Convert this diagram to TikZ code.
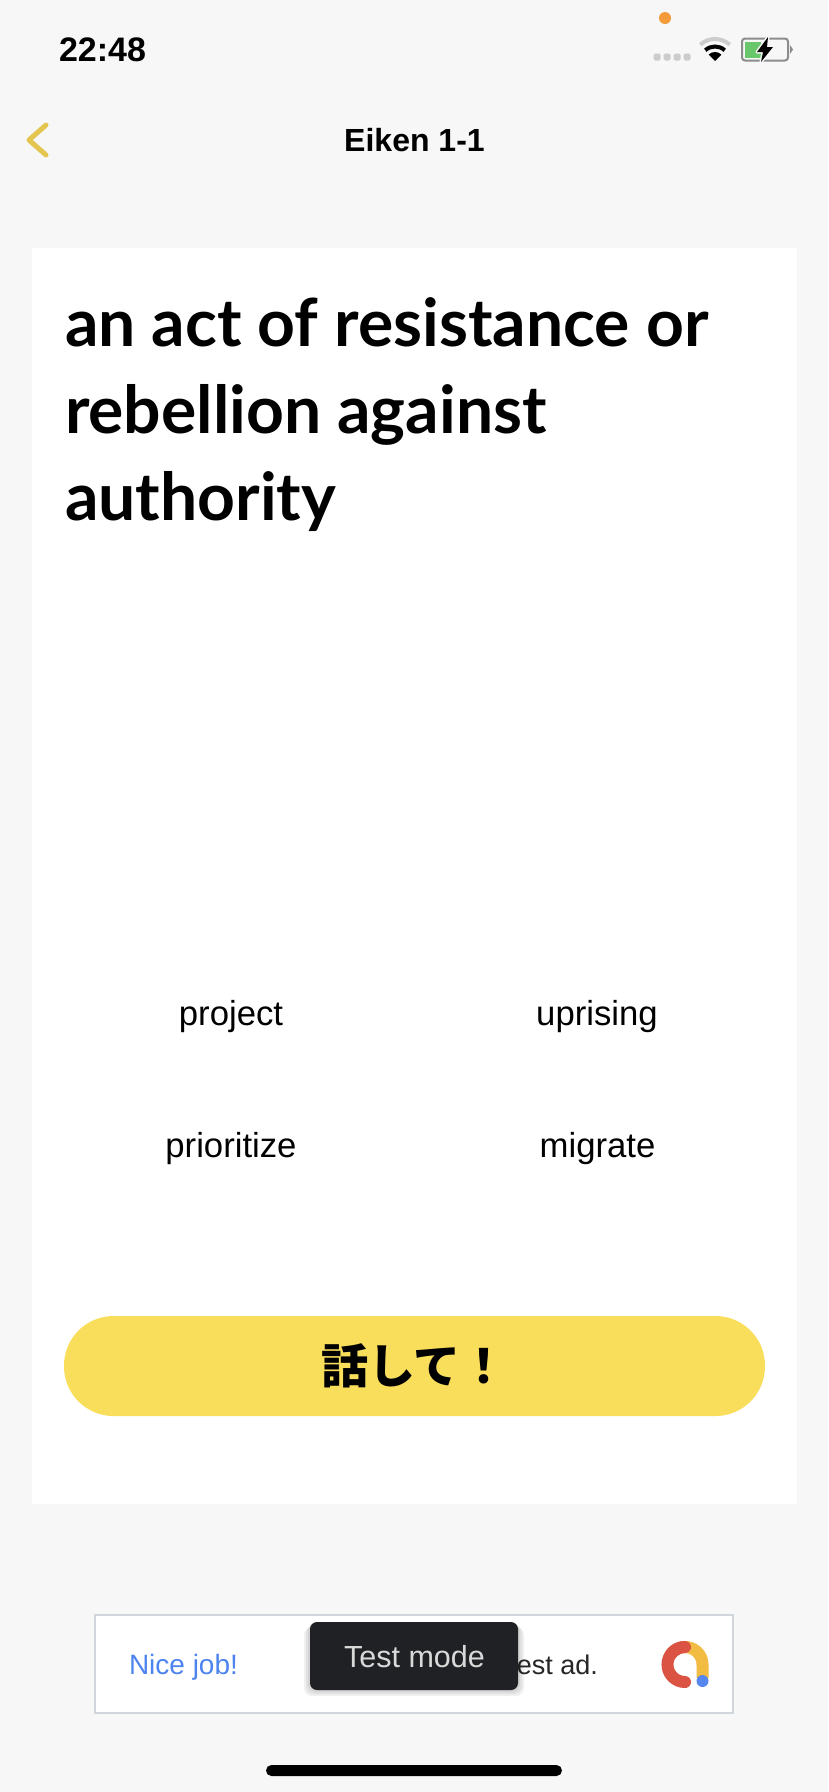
\documentclass[tikz,border=0pt]{standalone}
\usepackage{fontspec}
\setmainfont{Liberation Sans}
\newfontfamily\headfont{Lato}
\newfontfamily\jpfont{Noto Sans CJK JP}
\definecolor{pagebg}{HTML}{F7F7F7}
\definecolor{btnyellow}{HTML}{F9DE5C}
\definecolor{backyellow}{HTML}{E3C54F}
\definecolor{adblue}{HTML}{4E84F0}
\definecolor{adline}{HTML}{D0D6DB}
\definecolor{toastbg}{HTML}{202124}
\definecolor{logored}{HTML}{DB5443}
\definecolor{logoyellow}{HTML}{F2BC42}
\definecolor{logoblue}{HTML}{5687EE}
\definecolor{batgreen}{HTML}{68C76A}
\definecolor{recdot}{HTML}{F29B38}
\tikzset{
  txt/.style={inner sep=0pt,outer sep=0pt},
  choice/.style={txt,font=\fontsize{34.7}{35}\selectfont},
  celldot/.style={fill=black!20,rounded corners=1.5pt},
}
\begin{document}
\begin{tikzpicture}[x=1pt,y=-1pt]
\useasboundingbox (0,0) rectangle (828,1792);
\fill[pagebg] (0,0) rectangle (828,1792);
% status bar
\node[txt,font=\fontsize{34}{34}\bfseries\selectfont,anchor=base west] (clock) at (59,61) {22:48};
\fill[recdot] (665,18) circle (6);
\foreach \x in {657,667,677,687}
	\fill[celldot] (\x-3.5,53.5) rectangle (\x+3.5,60.5);
\draw[black!20,line width=4] (715,61)+(-48:22) arc (-48:-132:22);
\draw[black,line width=4] (715,61)+(-48:14.5) arc (-48:-132:14.5);
\fill[black] (715,61) -- +(-45:9) arc (-45:-135:9) -- cycle;
\draw[black!45,line width=2,rounded corners=3] (742,38.5) rectangle (788,60.5);
\fill[batgreen] (745,41.5) rectangle (761,57.5);
\fill[black!45] (790,45) -- (793,49.5) -- (790,54) -- cycle;
\draw[pagebg,line width=3,line join=round] (768,37) -- (757,52) -- (763,52) -- (761,62) -- (773,47) -- (767,47) -- cycle;
\fill[black] (768,37) -- (757,52) -- (763,52) -- (761,62) -- (773,47) -- (767,47) -- cycle;
% header
\draw[backyellow,line width=5,line cap=round,line join=round] (46,125) -- (29,140) -- (46,155);
\node[txt,font=\fontsize{32}{32}\bfseries\selectfont,anchor=base] (title) at (414.5,151) {Eiken 1-1};
% card
\fill[white] (32,248) rectangle (797,1504);
\node[txt,font=\headfont\bfseries\fontsize{66}{87}\selectfont,align=left,anchor=north west] (question) at (65,298) {an act of resistance or\\rebellion against\\authority};
\node[choice,anchor=base] (optproject) at (231,1025) {project};
\node[choice,anchor=base] (optuprising) at (597,1025) {uprising};
\node[choice,anchor=base] (optprioritize) at (231,1157) {prioritize};
\node[choice,anchor=base] (optmigrate) at (597.5,1157) {migrate};
\node[txt,fill=btnyellow,rounded corners=49.5pt,minimum width=701pt,minimum height=100pt] (speakbtn) at (414.5,1366) {};
\node[txt,font=\jpfont\bfseries\fontsize{47}{47}\selectfont] (speaklabel) at (speakbtn.center) {話して！};
% ad banner
\draw[adline,line width=2,fill=white] (95,1615) rectangle (733,1713);
\node[txt,font=\fontsize{28}{28}\selectfont,text=adblue,anchor=base west] (adhead) at (129,1674) {Nice job!};
\node[txt,font=\fontsize{27}{27}\selectfont,text=black!85,anchor=base east] (adbody) at (598,1674) {est ad.};
\draw[logored,line width=12,line cap=round] (685,1647) arc (-90:-270:17.5);
\draw[logoyellow,line width=12] (685,1647) arc (-90:0:17.5) -- (702.5,1678);
\draw[logored,line width=12,line cap=round] (685,1647) arc (-90:-140:17.5);
\fill[logoblue] (702.5,1681) circle (6);
\foreach \s in {2,4,6}
	\fill[black,opacity=.06,rounded corners=8pt] (310-\s,1621+\s) rectangle (518+\s,1690+\s);
\node[txt,fill=toastbg,rounded corners=7pt,minimum width=208pt,minimum height=68pt] (toast) at (414,1656) {};
\node[txt,font=\fontsize{30.5}{30.5}\selectfont,text=black!15,anchor=base] (toastlabel) at (414.5,1667) {Test mode};
% home bar
\fill[black,rounded corners=5.5pt] (266,1765) rectangle (562,1776);
\end{tikzpicture}
\end{document}
